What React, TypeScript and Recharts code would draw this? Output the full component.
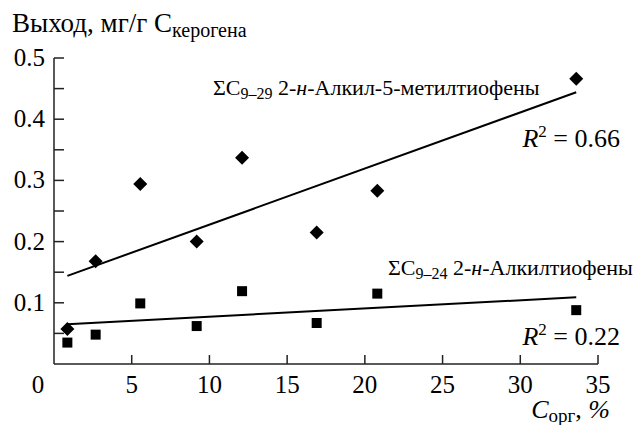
import { ScatterChart, Scatter, XAxis, YAxis, ReferenceLine } from 'recharts'

// C org, %
const corg = [0.86, 2.68, 5.55, 9.18, 12.1, 16.9, 20.8, 33.6]
// 2-n-alkyl-5-methylthiophenes, mg/g C kerogen
const methylThiophenes = [0.057, 0.168, 0.294, 0.2, 0.337, 0.215, 0.283, 0.466]
// 2-n-alkylthiophenes
const alkylThiophenes = [0.035, 0.048, 0.099, 0.062, 0.119, 0.067, 0.115, 0.088]

const methylTrend = [
  { x: 0.86, y: 0.144 },
  { x: 33.6, y: 0.444 },
]
const alkylTrend = [
  { x: 0.86, y: 0.065 },
  { x: 33.6, y: 0.109 },
]

const xTicks = [0, 5, 10, 15, 20, 25, 30, 35]
const yTicks = [0, 0.05, 0.1, 0.15, 0.2, 0.25, 0.3, 0.35, 0.4, 0.45, 0.5]

const methylData = corg.map((x, i) => ({ x, y: methylThiophenes[i] }))
const alkylData = corg.map((x, i) => ({ x, y: alkylThiophenes[i] }))

const FONT = 'Liberation Serif'
const INK = '#000000'
const serif = { fontFamily: FONT }

function Diamond(props: any) {
  const { cx, cy } = props
  const r = 7
  return (
    <polygon
      points={`${cx},${cy - r} ${cx + r},${cy} ${cx},${cy + r} ${cx - r},${cy}`}
      fill={INK}
    />
  )
}

function Square(props: any) {
  const { cx, cy } = props
  const s = 10
  return <rect x={cx - s / 2} y={cy - s / 2} width={s} height={s} fill={INK} />
}

function XTick(props: any) {
  const { x, y, payload } = props
  const v = payload.value
  return (
    <g>
      {v !== 0 && <line x1={x} y1={y} x2={x} y2={y - 9} stroke="#222" strokeWidth={1.5} />}
      <text
        x={v === 0 ? x - 16 : x}
        y={y + 29}
        textAnchor="middle"
        style={serif}
        fontSize={25}
        fill={INK}
      >
        {v}
      </text>
    </g>
  )
}

function YTick(props: any) {
  const { x, y, payload } = props
  const v = payload.value
  const major = Math.round(v * 100) % 10 === 0 && v !== 0
  return (
    <g>
      {v !== 0 && <line x1={x} y1={y} x2={x + 10} y2={y} stroke="#222" strokeWidth={1.5} />}
      {major && (
        <text x={x - 9} y={y + 8} textAnchor="end" style={serif} fontSize={25} fill={INK}>
          {v.toFixed(1)}
        </text>
      )}
    </g>
  )
}

export default function App() {
  return (
    <div
      style={{
        position: 'absolute',
        left: 0,
        top: 0,
        width: 637,
        height: 425,
        background: '#fff',
      }}
    >
      <ScatterChart
        width={637}
        height={425}
        margin={{ top: 58, right: 39, left: 0, bottom: 0 }}
      >
        <XAxis
          type="number"
          dataKey="x"
          domain={[0, 35]}
          ticks={xTicks}
          height={61}
          tickSize={0}
          tickMargin={0}
          tickLine={false}
          axisLine={{ stroke: '#222', strokeWidth: 1.5 }}
          tick={<XTick />}
          interval={0}
        />
        <YAxis
          type="number"
          dataKey="y"
          domain={[0, 0.5]}
          ticks={yTicks}
          width={54}
          tickSize={0}
          tickMargin={0}
          tickLine={false}
          axisLine={{ stroke: '#222', strokeWidth: 1.5 }}
          tick={<YTick />}
          interval={0}
        />
        <ReferenceLine segment={methylTrend} stroke={INK} strokeWidth={2} />
        <ReferenceLine segment={alkylTrend} stroke={INK} strokeWidth={2} />
        <Scatter data={methylData} shape={<Diamond />} isAnimationActive={false} />
        <Scatter data={alkylData} shape={<Square />} isAnimationActive={false} />
      </ScatterChart>
      <svg
        width={637}
        height={425}
        style={{ position: 'absolute', left: 0, top: 0, pointerEvents: 'none' }}
        fill={INK}
      >
        <text x={12} y={32} fontSize={27} style={serif}>
          Выход, мг/г C<tspan fontSize={20} dy={5}>керогена</tspan>
        </text>
        <text x={213} y={95} fontSize={22} style={serif}>
          ΣC<tspan fontSize={16} dy={4}>9–29</tspan>
          <tspan dy={-4}> 2-</tspan>
          <tspan fontStyle="italic">н</tspan>-Алкил-5-метилтиофены
        </text>
        <text x={620} y={147} fontSize={26} textAnchor="end" style={serif}>
          <tspan fontStyle="italic">R</tspan>
          <tspan fontSize={17} dy={-10}>2</tspan>
          <tspan dy={10}> = 0.66</tspan>
        </text>
        <text x={388} y={275} fontSize={22} style={serif}>
          ΣC<tspan fontSize={16} dy={4}>9–24</tspan>
          <tspan dy={-4}> 2-</tspan>
          <tspan fontStyle="italic">н</tspan>-Алкилтиофены
        </text>
        <text x={620} y={345} fontSize={26} textAnchor="end" style={serif}>
          <tspan fontStyle="italic">R</tspan>
          <tspan fontSize={17} dy={-10}>2</tspan>
          <tspan dy={10}> = 0.22</tspan>
        </text>
        <text x={610} y={418} fontSize={26} textAnchor="end" style={serif}>
          <tspan fontStyle="italic">C</tspan>
          <tspan fontSize={19} dy={4}>орг</tspan>
          <tspan dy={-4}>, </tspan>
          <tspan fontStyle="italic">%</tspan>
        </text>
      </svg>
    </div>
  )
}
